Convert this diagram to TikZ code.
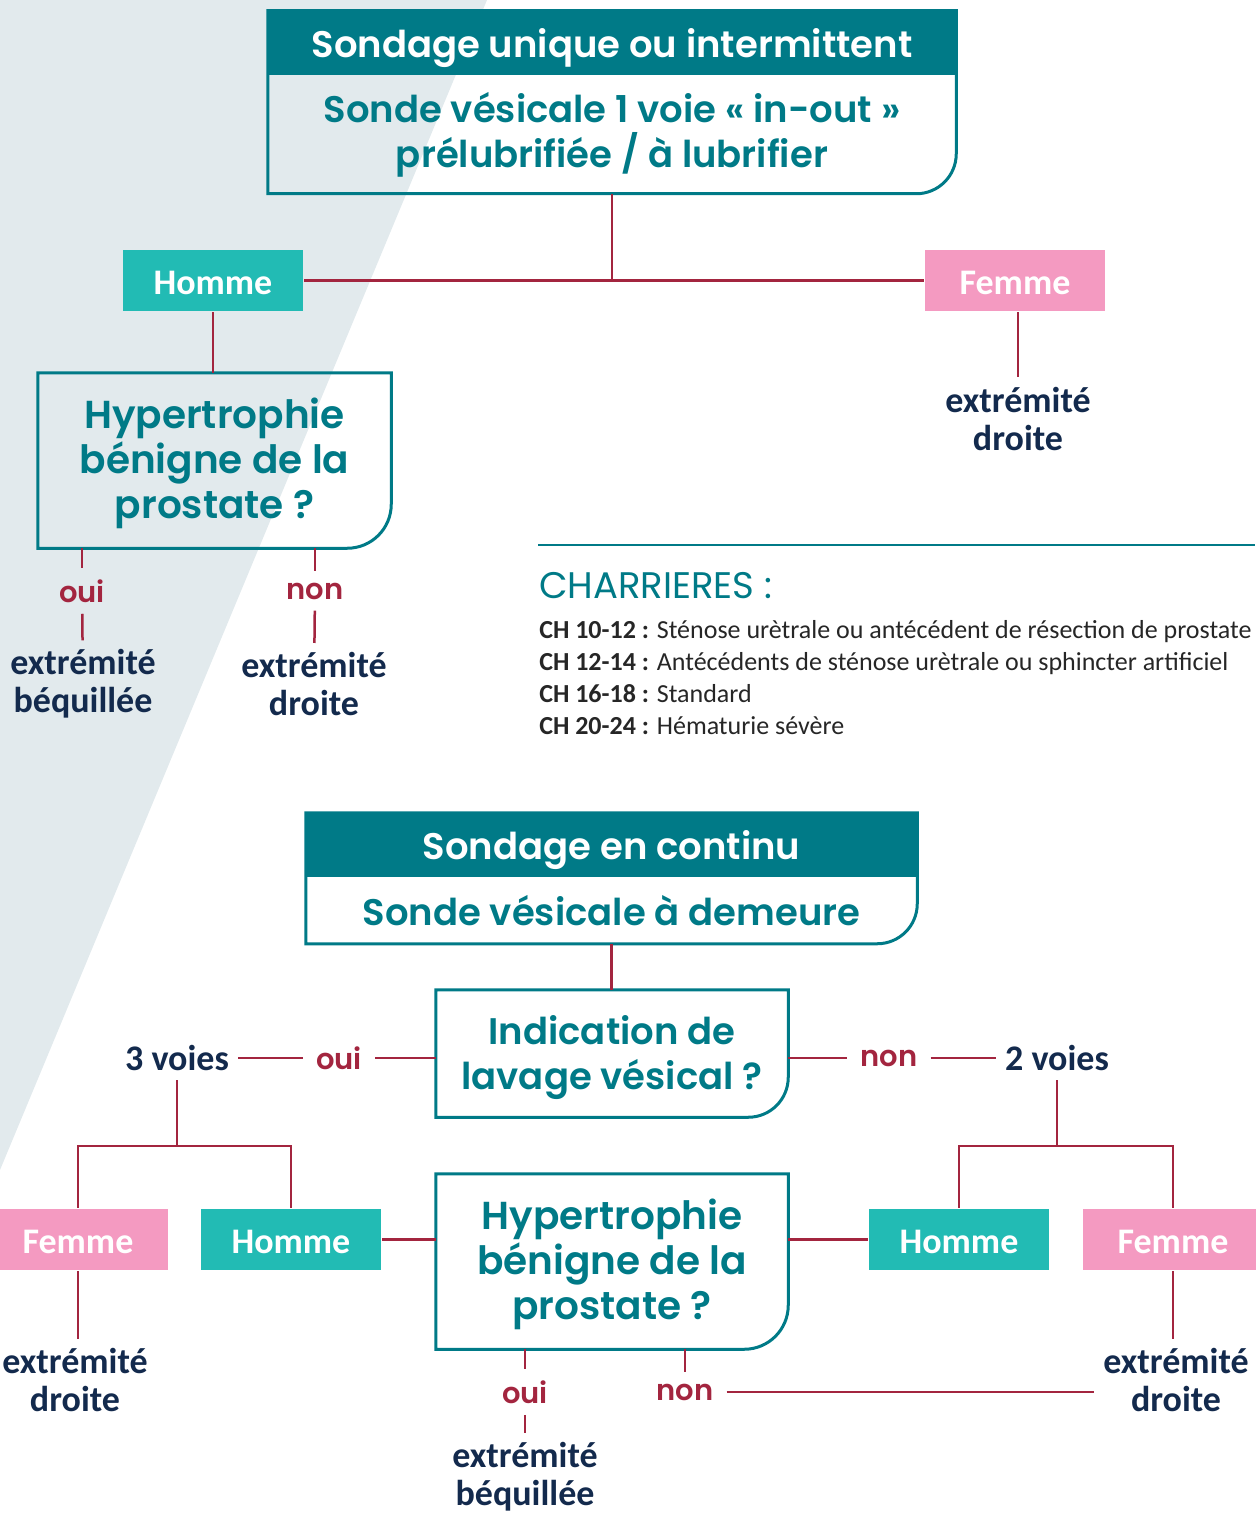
\documentclass[tikz,border=0pt]{standalone}
\usepackage{fontspec}
\setmainfont{Carlito}
\newfontfamily\roundfont{Poppins SemiBold}
\newfontfamily\roundlight{Poppins}
\usetikzlibrary{positioning}
\definecolor{tealdark}{RGB}{0,122,135}
\definecolor{homme}{RGB}{34,187,180}
\definecolor{femme}{RGB}{244,154,193}
\definecolor{lien}{RGB}{163,37,63}
\definecolor{navy}{RGB}{19,42,77}
\definecolor{fond}{RGB}{226,234,237}
\tikzset{every picture/.style={line width=1.25pt},
  titre/.style={fill=tealdark, text=white, font=\roundfont\fontsize{18.5}{20}\selectfont, inner sep=0pt},
  corps/.style={text=tealdark, align=center, font=\roundfont\fontsize{18.5}{22.5}\selectfont, inner sep=0pt},
  genre/.style={minimum width=90pt, minimum height=30.5pt, text height=14.4pt, text depth=0pt, text=white, font=\bfseries\fontsize{18}{20}\selectfont, inner sep=0pt},
  fin/.style={text=navy, align=center, font=\bfseries\fontsize{18}{19}\selectfont, inner sep=4pt},
  reponse/.style={text=lien, font=\roundfont\fontsize{14.5}{16}\selectfont, inner xsep=6pt, inner ysep=5pt},
  lien/.style={draw=lien, line width=1.25pt},
  cadre/.style={draw=tealdark, line width=1.5pt}}
\newcommand{\boitecadre}[3]{\draw[cadre] (#1.north west) -- (#1.north east) -- ([yshift=#3]#2.south east) arc[start angle=0, end angle=-90, radius=#3] -- (#2.south west) -- cycle;}
\newcommand{\cale}[1]{\rule{0pt}{#1}}

\begin{document}
\begin{tikzpicture}[x=0.5pt,y=-0.5pt]
\useasboundingbox (0,0) rectangle (1255,1514);
\fill[fond] (0,0) -- (487,0) -- (0,1170) -- cycle;

\node[titre, minimum width=343pt, minimum height=31.5pt] (sondage1) at (612,43.5) {\cale{18.7pt}Sondage unique ou intermittent};
\node[corps, minimum width=343pt, minimum height=57.5pt, below=0pt of sondage1] (sonde1) {Sonde vésicale 1 voie « in-out »\\prélubrifiée / à lubrifier};
\boitecadre{sondage1}{sonde1}{20pt}
\node[genre, fill=homme] (homme1) at (213,280.5) {Homme};
\node[genre, fill=femme] (femme1) at (1015,280.5) {Femme};
\node[corps, font=\roundfont\fontsize{19.5}{22.5}\selectfont, minimum width=175.5pt, minimum height=86.5pt] (hbp1) at (214.5,460.5) {\cale{18.5pt}Hypertrophie\\bénigne de la\\prostate ?};
\boitecadre{hbp1}{hbp1}{22pt}
\node[reponse] (oui1) at (82,591) {oui};
\node[reponse] (non1) at (315,591) {non};
\node[fin] (ext1) at (83,684) {extrémité\\béquillée};
\node[fin] (ext2) at (314,684) {extrémité\\droite};
\node[fin] (ext3) at (1018,418.5) {extrémité\\droite};

\draw[lien] (sonde1) -- (sonde1 |- homme1);
\draw[lien] (homme1) -- (femme1);
\draw[lien] (homme1) -- (homme1 |- hbp1.north);
\draw[lien] (oui1 |- hbp1.south) -- (oui1);
\draw[lien] (oui1) -- (ext1);
\draw[lien] (non1 |- hbp1.south) -- (non1);
\draw[lien] (non1) -- (ext2);
\draw[lien] (ext3 |- femme1.south) -- (ext3);

\draw[tealdark, line width=0.75pt] (538,545) -- (1255,545);
\node[anchor=west, inner sep=0pt, text=tealdark, font=\roundlight\fontsize{18.5}{20}\selectfont] (charrieres) at (538,586) {CHARRIERES :};
\node[anchor=north west, inner sep=0pt, align=left, text=black!85, font=\fontsize{13}{16}\selectfont] (liste) at (538,619) {\textbf{CH 10-12 :} Sténose urètrale ou antécédent de résection de prostate\\\textbf{CH 12-14 :} Antécédents de sténose urètrale ou sphincter artificiel\\\textbf{CH 16-18 :} Standard\\\textbf{CH 20-24 :} Hématurie sévère};

\node[titre, minimum width=304.5pt, minimum height=31.5pt] (sondage2) at (611.5,845.5) {\cale{18.7pt}Sondage en continu};
\node[corps, minimum width=304.5pt, minimum height=31.5pt, below=0pt of sondage2] (sonde2) {Sonde vésicale à demeure};
\boitecadre{sondage2}{sonde2}{20pt}
\node[corps, minimum width=175pt, minimum height=62.5pt] (indication) at (612,1053.5) {\cale{18.7pt}Indication de\\lavage vésical ?};
\boitecadre{indication}{indication}{20pt}
\node[reponse] (oui2) at (339,1058) {oui};
\node[reponse] (non2) at (889,1058) {non};
\node[fin] (voies3) at (177,1058) {3 voies};
\node[fin] (voies2) at (1057,1058) {2 voies};
\coordinate (fourche3) at (177,1146);
\coordinate (fourche2) at (1057,1146);
\node[genre, fill=femme] (femme2) at (78,1239.5) {Femme};
\node[genre, fill=homme] (homme2) at (291,1239.5) {Homme};
\node[genre, fill=homme] (homme3) at (959,1239.5) {Homme};
\node[genre, fill=femme] (femme3) at (1173,1239.5) {Femme};
\node[corps, font=\roundfont\fontsize{19.5}{22.5}\selectfont, minimum width=175pt, minimum height=86.5pt] (hbp2) at (612,1261.5) {\cale{18.5pt}Hypertrophie\\bénigne de la\\prostate ?};
\boitecadre{hbp2}{hbp2}{22pt}
\node[fin] (ext4) at (75,1379.5) {extrémité\\droite};
\node[fin] (ext5) at (1176,1379.5) {extrémité\\droite};
\node[reponse] (oui3) at (525,1392) {oui};
\node[reponse] (non3) at (685,1392) {non};
\node[fin] (ext6) at (525,1477) {extrémité\\béquillée};

\draw[lien] (sonde2) -- (sonde2 |- indication.north);
\draw[lien] (indication.west |- oui2) -- (oui2);
\draw[lien] (oui2) -- (voies3);
\draw[lien] (indication.east |- non2) -- (non2);
\draw[lien] (non2) -- (voies2);
\draw[lien] (voies3) -- (fourche3);
\draw[lien] (femme2.north) |- (fourche3) -| (homme2.north);
\draw[lien] (voies2) -- (fourche2);
\draw[lien] (homme3.north) |- (fourche2) -| (femme3.north);
\draw[lien] (homme2) -- (homme2 -| hbp2.west);
\draw[lien] (hbp2.east |- homme3) -- (homme3);
\draw[lien] (femme2) -- (femme2 |- ext4.north);
\draw[lien] (femme3) -- (femme3 |- ext5.north);
\draw[lien] (oui3 |- hbp2.south) -- (oui3);
\draw[lien] (oui3) -- (ext6);
\draw[lien] (non3 |- hbp2.south) -- (non3);
\draw[lien] (non3) -- (non3 -| ext5.west);
\end{tikzpicture}
\end{document}
